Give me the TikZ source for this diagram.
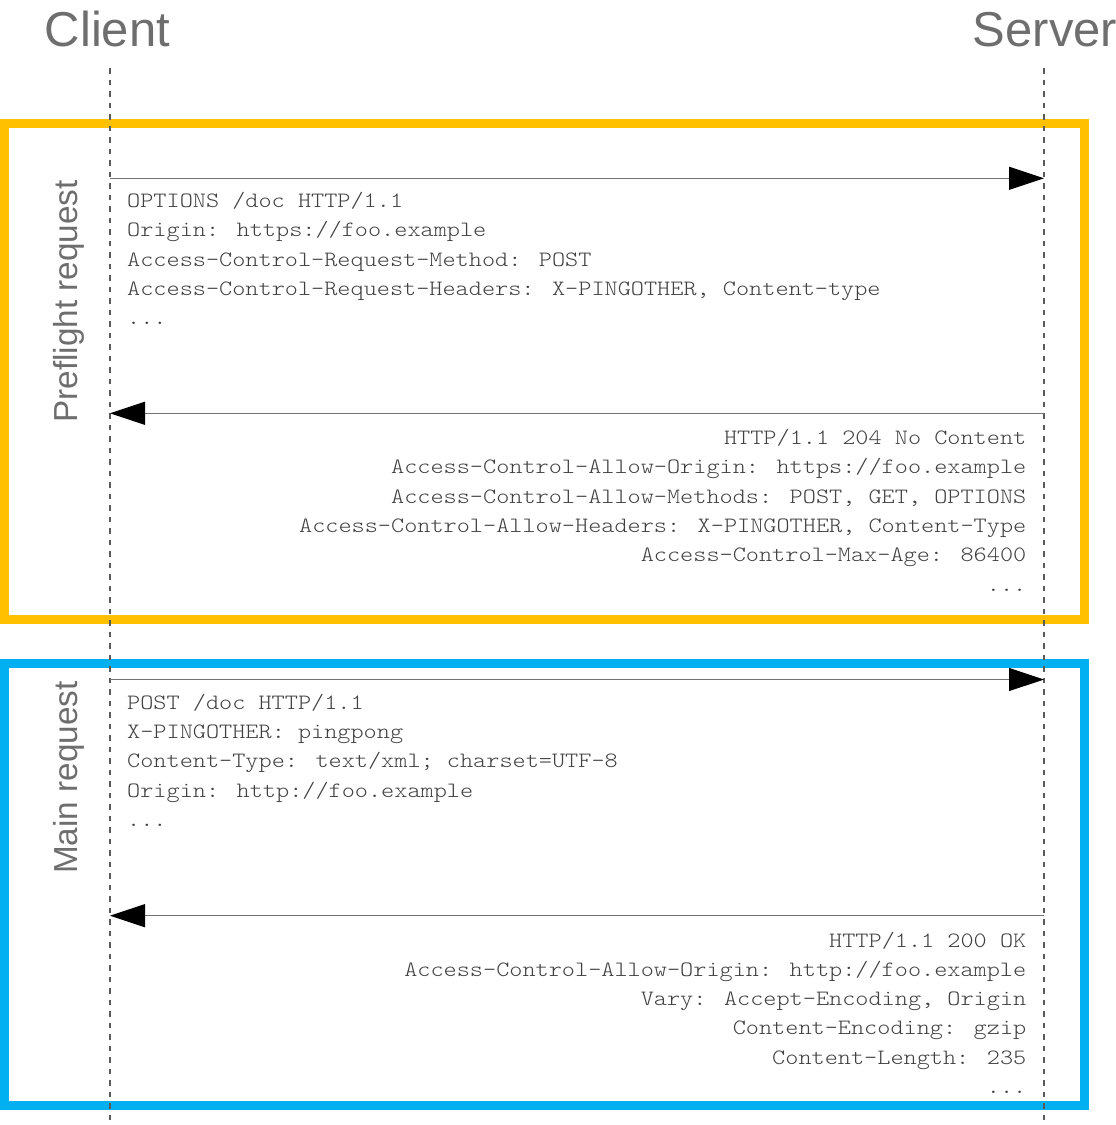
\documentclass[tikz,border=0pt]{standalone}
\usepackage{fontspec}
\setmainfont{Liberation Sans}
\newfontfamily\monofam[FakeStretch=1.143]{Latin Modern Mono Light}
\usetikzlibrary{arrows.meta}
\definecolor{orangebox}{HTML}{FFC000}
\definecolor{bluebox}{HTML}{00B0F0}
\definecolor{labelgrey}{HTML}{6E6E6E}
\definecolor{textgrey}{HTML}{404040}
\definecolor{lifegrey}{HTML}{5A5A5A}
\begin{document}
\begin{tikzpicture}[x=1pt,y=-1pt,
  actor/.style={font=\fontsize{49}{49}\selectfont, text=labelgrey, inner sep=0pt, anchor=base west},
  phase/.style={font=\fontsize{33.3}{33.3}\selectfont, text=labelgrey, inner sep=0pt, anchor=base west, rotate=90},
  msg/.style={font=\monofam\fontsize{21.9}{29.3}\selectfont, text=textgrey, inner sep=0pt},
  reqline/.style={msg, anchor=base west},
  resline/.style={msg, anchor=base east},
  frame/.style={line width=9pt},
  lifeline/.style={draw=lifegrey, line width=1.2pt, dash pattern=on 5.5pt off 6pt},
  call/.style={draw=black!55, line width=1.1pt, -{Triangle[length=35pt,width=23pt,color=black]}}
]
\useasboundingbox (0,0) rectangle (1116,1125);

% frames
\draw[frame, draw=orangebox] (4.5,123.5) rectangle (1084,619);
\draw[frame, draw=bluebox] (4.5,663.5) rectangle (1084,1105);

% actors
\node[actor] (client) at (44.6,46.5) {Client};
\node[actor] (server) at (972.7,46.5) {Server};

% phase labels
\node[phase] (pre) at (77,423) {Preflight request};
\node[phase] (main) at (77,874) {Main request};

% lifelines
\coordinate (cT) at (110,68);
\coordinate (cB) at (110,1125);
\coordinate (sT) at (1044,68);
\coordinate (sB) at (1044,1125);
\draw[lifeline] (cT) -- (cB);
\draw[lifeline] (sT) -- (sB);

% message anchors
\coordinate (c1) at (110,178.3);  \coordinate (s1) at (1044,178.3);
\coordinate (c2) at (110,413.3);  \coordinate (s2) at (1044,413.3);
\coordinate (c3) at (110,679.5);  \coordinate (s3) at (1044,679.5);
\coordinate (c4) at (110,915.7);  \coordinate (s4) at (1044,915.7);
\draw[call] (c1) -- (s1);
\draw[call] (s2) -- (c2);
\draw[call] (c3) -- (s3);
\draw[call] (s4) -- (c4);

% preflight request
\node[reqline] (pq1) at (127,207.5) {OPTIONS /doc HTTP/1.1};
\node[reqline] (pq2) at (127,236.8) {Origin: https://foo.example};
\node[reqline] (pq3) at (127,266.1) {Access-Control-Request-Method: POST};
\node[reqline] (pq4) at (127,295.4) {Access-Control-Request-Headers: X-PINGOTHER, Content-type};
\node[reqline] (pq5) at (127,324.7) {...};

% preflight response
\node[resline] (pr1) at (1026.5,444.5) {HTTP/1.1 204 No Content};
\node[resline] (pr2) at (1026.5,473.8) {Access-Control-Allow-Origin: https://foo.example};
\node[resline] (pr3) at (1026.5,503.1) {Access-Control-Allow-Methods: POST, GET, OPTIONS};
\node[resline] (pr4) at (1026.5,532.4) {Access-Control-Allow-Headers: X-PINGOTHER, Content-Type};
\node[resline] (pr5) at (1026.5,561.7) {Access-Control-Max-Age: 86400};
\node[resline] (pr6) at (1026.5,591.0) {...};

% main request
\node[reqline] (mq1) at (127,709.0) {POST /doc HTTP/1.1};
\node[reqline] (mq2) at (127,738.4) {X-PINGOTHER: pingpong};
\node[reqline] (mq3) at (127,767.8) {Content-Type: text/xml; charset=UTF-8};
\node[reqline] (mq4) at (127,797.2) {Origin: http://foo.example};
\node[reqline] (mq5) at (127,826.6) {...};

% main response
\node[resline] (mr1) at (1026.5,947.2) {HTTP/1.1 200 OK};
\node[resline] (mr2) at (1026.5,976.4) {Access-Control-Allow-Origin: http://foo.example};
\node[resline] (mr3) at (1026.5,1005.6) {Vary: Accept-Encoding, Origin};
\node[resline] (mr4) at (1026.5,1034.8) {Content-Encoding: gzip};
\node[resline] (mr5) at (1026.5,1064.0) {Content-Length: 235};
\node[resline] (mr6) at (1026.5,1093.2) {...};
\end{tikzpicture}
\end{document}
